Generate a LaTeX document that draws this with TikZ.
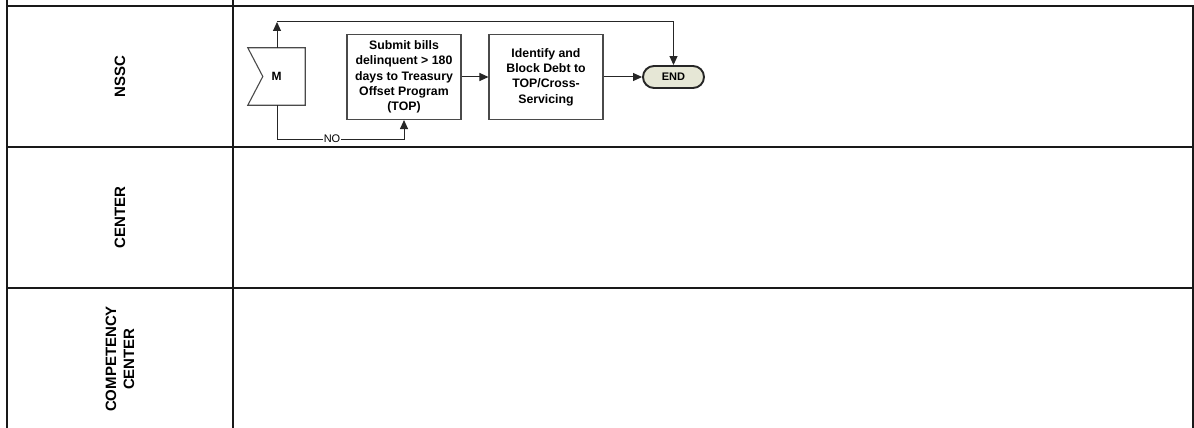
\documentclass[tikz,border=0pt]{standalone}
\usepackage{fontspec}
\setmainfont{Liberation Sans}
\usetikzlibrary{arrows.meta,calc,shapes.misc}

\definecolor{endfill}{HTML}{E6E7D6}
\definecolor{boxline}{HTML}{4A4A4A}

\tikzset{
  lane/.style={line width=2.2pt, draw=black!90},
  lanelabel/.style={rotate=90, align=center, font=\fontsize{15}{18}\selectfont\bfseries},
  procbox/.style={draw=boxline, line width=1.1pt, fill=white, minimum width=114pt,
    minimum height=85pt, align=center, inner sep=2pt,
    font=\fontsize{12.3}{15.4}\selectfont\bfseries},
  terminal/.style={rounded rectangle, draw=black!85, line width=1.9pt, fill=endfill,
    minimum width=63pt, minimum height=22pt, inner sep=1pt,
    font=\fontsize{11}{13}\selectfont\bfseries},
  connector/.style={draw=none, minimum width=57pt, minimum height=57pt, inner sep=0pt,
    font=\fontsize{12}{14}\selectfont\bfseries},
  flow/.style={draw=black!85, line width=1pt, -{Triangle[length=9pt,width=8pt]}},
  plain/.style={draw=black!85, line width=1pt},
  guard/.style={fill=white, inner sep=1pt, font=\fontsize{11}{13}\selectfont}
}

\begin{document}
\begin{tikzpicture}[x=1pt, y=-1pt]
  \useasboundingbox (0,0) rectangle (1194,428);
  \fill[white] (0,0) rectangle (1194,428);

  % swimlane grid
  \draw[lane] (7,0) -- (7,428);
  \draw[lane] (233,0) -- (233,428);
  \draw[lane] (1193,6) -- (1193,428);
  \draw[lane] (7,6) -- (1194,6);
  \draw[lane] (7,147) -- (1194,147);
  \draw[lane] (7,288) -- (1194,288);

  % lane titles
  \node[lanelabel] (lnssc) at (120,76.5) {NSSC};
  \node[lanelabel] (lcenter) at (120,217.5) {CENTER};
  \node[lanelabel] (lcomp) at (120,359) {COMPETENCY\\CENTER};

  % off-page connector M
  \node[connector] (m) at (276.5,76.5) {M};
  \draw[plain, draw=boxline, line width=1.1pt]
    (m.north west) -- (m.north east) -- (m.south east) -- (m.south west)
    -- ($(m.west)+(15,0)$) -- cycle;

  % process steps
  \node[procbox] (submit) at (404,77)
    {Submit bills\\delinquent > 180\\days to Treasury\\Offset Program\\(TOP)};
  \node[procbox] (block) at (546,77)
    {Identify and\\Block Debt to\\TOP/Cross-\\Servicing};
  \node[terminal] (end) at (673.5,77) {END};

  % routing points
  \coordinate (looptop) at (277,22);
  \coordinate (nocorner) at (277,139);

  % connectors
  \draw[flow] (m.north -| looptop) -- (looptop);
  \draw[flow] (looptop) -| (end.north);
  \draw[plain] (m.south -| nocorner) -- (nocorner);
  \draw[flow] (nocorner) -| (submit.south);
  \node[guard] (nolabel) at (332,139) {NO};
  \draw[flow] (submit.east) -- (block.west);
  \draw[flow] (block.east) -- (end.west);
\end{tikzpicture}
\end{document}
